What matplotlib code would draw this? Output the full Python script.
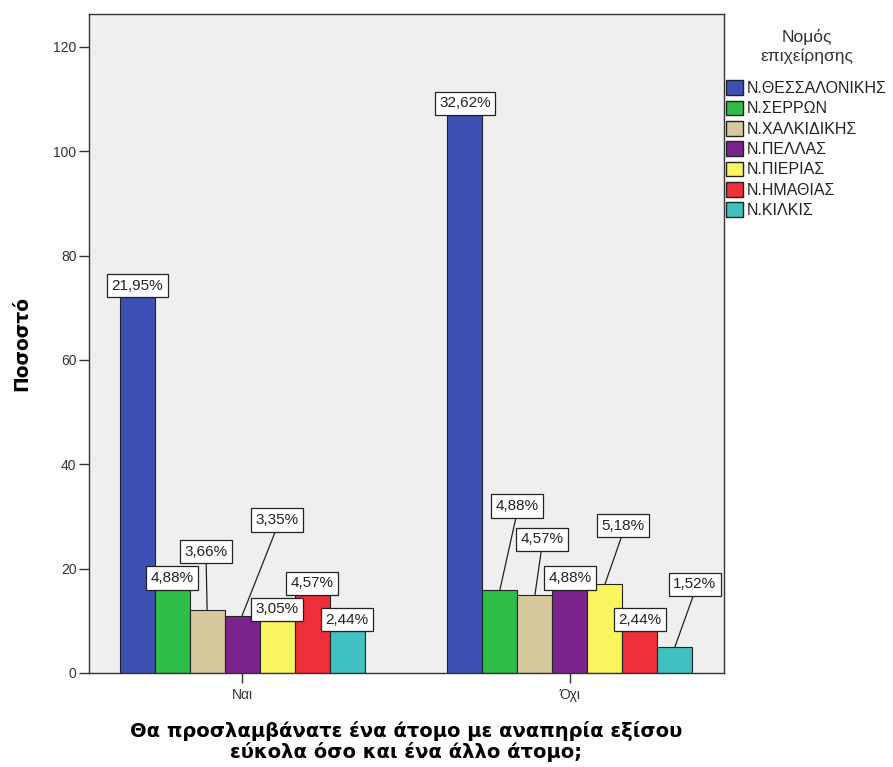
import matplotlib
matplotlib.use("Agg")
import matplotlib.pyplot as plt
from matplotlib.patches import Patch
import numpy as np

plt.rcParams['font.family'] = ['Liberation Sans', 'DejaVu Sans']

categories = ["Ναι", "Όχι"]
series = ["Ν.ΘΕΣΣΑΛΟΝΙΚΗΣ", "Ν.ΣΕΡΡΩΝ", "Ν.ΧΑΛΚΙΔΙΚΗΣ", "Ν.ΠΕΛΛΑΣ",
          "Ν.ΠΙΕΡΙΑΣ", "Ν.ΗΜΑΘΙΑΣ", "Ν.ΚΙΛΚΙΣ"]
counts_nai = [72, 16, 12, 11, 10, 15, 8]
counts_oxi = [107, 16, 15, 16, 17, 8, 5]
pct_nai = ["21,95%", "4,88%", "3,66%", "3,35%", "3,05%", "4,57%", "2,44%"]
pct_oxi = ["32,62%", "4,88%", "4,57%", "4,88%", "5,18%", "2,44%", "1,52%"]
yticks = [0, 20, 40, 60, 80, 100, 120]

colors = ["#3d50b4", "#2ebd48", "#d7c89e", "#7a238c", "#f8f55e", "#ef2f3a", "#40c0c0"]
# label offsets (pixels) from bar top to box bottom: (dx, dy)
off_nai = [(0, 0), (0, 0), (-1, 47), (35, 84), (0, 0), (0, 0), (0, 0)]
off_oxi = [(0, 0), (17, 72), (7, 44), (0, 0), (18, 47), (0, 0), (20, 51)]

W, H = 893, 767
fig = plt.figure(figsize=(W / 100, H / 100), dpi=100)
ax = fig.add_axes([89 / W, (H - 673) / H, (724 - 89) / W, (673 - 14) / H])
ax.set_facecolor("#efefef")

n = len(series)
bw = 0.1067
x = np.arange(len(categories))
data = [counts_nai, counts_oxi]
pcts = [pct_nai, pct_oxi]
offs = [off_nai, off_oxi]

lab_fs = 11
pad = 0.3
pad_px = pad * lab_fs * 100 / 72

for j in range(n):
    xs = x + (j - (n - 1) / 2) * bw
    vals = [data[0][j], data[1][j]]
    ax.bar(xs, vals, width=bw, color=colors[j], edgecolor="#222222",
           linewidth=0.8, zorder=2)
    for g in range(2):
        dx, dy = offs[g][j]
        arrow = None
        if dy > 0:
            arrow = dict(arrowstyle="-", color="#222222", lw=0.9,
                         shrinkA=0, shrinkB=0, relpos=(0.5, 0.0))
        ax.annotate(pcts[g][j], xy=(xs[g], vals[g]), xytext=(dx, dy + pad_px),
                    textcoords="offset pixels", ha="center", va="bottom",
                    fontsize=lab_fs, color="#222222", zorder=5,
                    bbox=dict(boxstyle="square,pad=%g" % pad, fc="white",
                              ec="#222222", lw=0.9),
                    arrowprops=arrow)

ax.set_xlim(-0.467, 1.47)
ax.set_ylim(0, 126.3)
ax.set_yticks(yticks)
ax.set_yticklabels([str(t) for t in yticks], fontsize=10, color="#333333")
ax.set_xticks(x)
ax.set_xticklabels(categories, fontsize=10, color="#333333")
ax.tick_params(axis="both", direction="out", length=7, width=1, color="#333333")
ax.tick_params(axis="y", pad=2)
for s in ax.spines.values():
    s.set_color("#333333")
    s.set_linewidth(1.0)

ax.set_ylabel("Ποσοστό", fontsize=13.5, fontweight="bold",
              family=["DejaVu Sans"], labelpad=16)
ax.set_xlabel("Θα προσλαμβάνατε ένα άτομο με αναπηρία εξίσου\nεύκολα όσο και ένα άλλο άτομο;",
              fontsize=14, fontweight="bold", family=["DejaVu Sans"],
              labelpad=14, linespacing=1.05)

handles = [Patch(facecolor=c, edgecolor="#222222", lw=1.0) for c in colors]
leg = fig.legend(handles, series, loc="upper left",
                 bbox_to_anchor=(726 / W, 1 - 29 / H), frameon=False,
                 title="Νομός\nεπιχείρησης", fontsize=11.5, title_fontsize=12.5,
                 handlelength=1.05, handleheight=1.05, handletextpad=0.25,
                 labelspacing=0.28, borderaxespad=0, borderpad=0)
leg.get_title().set_color("#333333")
leg.get_title().set_multialignment("center")
leg.get_title().set_linespacing(1.25)
leg._legend_box.align = "center"
leg._legend_box.sep = 12
for t in leg.get_texts():
    t.set_color("#222222")

fig.savefig("out.png", dpi=100, facecolor="white")
